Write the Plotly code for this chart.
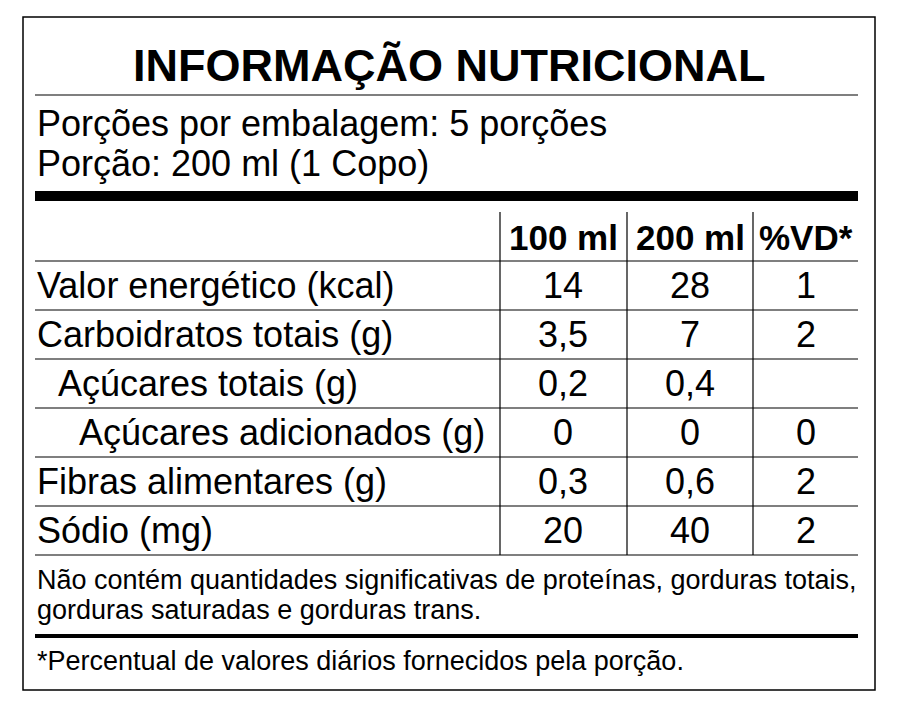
import plotly.graph_objects as go

# table data
nutrients = ['Valor energético (kcal)', 'Carboidratos totais (g)', 'Açúcares totais (g)',
             'Açúcares adicionados (g)', 'Fibras alimentares (g)', 'Sódio (mg)']
indent_level = [0, 0, 1, 2, 0, 0]
per_100ml = ['14', '3,5', '0,2', '0', '0,3', '20']
per_200ml = ['28', '7', '0,4', '0', '0,6', '40']
pct_vd = ['1', '2', '', '0', '2', '2']
col_headers = ['100 ml', '200 ml', '%VD*']

title = 'INFORMAÇÃO NUTRICIONAL'
servings = 'Porções por embalagem: 5 porções'
portion = 'Porção: 200 ml (1 Copo)'
note1 = 'Não contém quantidades significativas de proteínas, gorduras totais,'
note2 = 'gorduras saturadas e gorduras trans.'
note3 = '*Percentual de valores diários fornecidos pela porção.'

FONT = 'Liberation Sans, Arial, sans-serif'
fig = go.Figure()

def text(x, y, s, size, anchor='left', bold=False):
    fig.add_annotation(x=x, y=y, text=f'<b>{s}</b>' if bold else s, showarrow=False,
                       xanchor=anchor, yanchor='middle',
                       font=dict(family=FONT, size=size, color='black'))

def hline(y, w=1.2, x0=35, x1=858):
    fig.add_shape(type='line', x0=x0, x1=x1, y0=y, y1=y, line=dict(color='black', width=w))

# outer border
fig.add_shape(type='rect', x0=23, x1=875, y0=17, y1=690, line=dict(color='black', width=1.5))

text(449, 65, title, 45, 'center', bold=True)
hline(95)
text(35, 123, servings, 36)
text(35, 163, portion, 36)
hline(196, w=10)

col_x = [563, 690, 806]
for cx, h in zip(col_x, col_headers):
    text(cx, 237, h, 35, 'center', bold=True)

for vx in [500, 627, 753]:
    fig.add_shape(type='line', x0=vx, x1=vx, y0=212, y1=555, line=dict(color='black', width=1.2))

row_top = 261
row_h = 49
hline(row_top)
for i, name in enumerate(nutrients):
    yc = row_top + row_h * i + row_h / 2
    text(35 + 21 * indent_level[i], yc, name, 36)
    for cx, v in zip(col_x, [per_100ml[i], per_200ml[i], pct_vd[i]]):
        text(cx, yc, v, 36, 'center')
    hline(row_top + row_h * (i + 1))

text(35, 580, note1, 27)
text(35, 610, note2, 27)
hline(636, w=4)
text(35, 661, note3, 27)

# the page body adds an 8px offset, so the axis window is shifted to compensate
fig.update_layout(width=898, height=717, margin=dict(l=0, r=0, t=0, b=0),
                  plot_bgcolor='white', paper_bgcolor='white', showlegend=False,
                  xaxis=dict(range=[8, 906], visible=False, fixedrange=True),
                  yaxis=dict(range=[725, 8], visible=False, fixedrange=True))

fig.write_html('out.html')
